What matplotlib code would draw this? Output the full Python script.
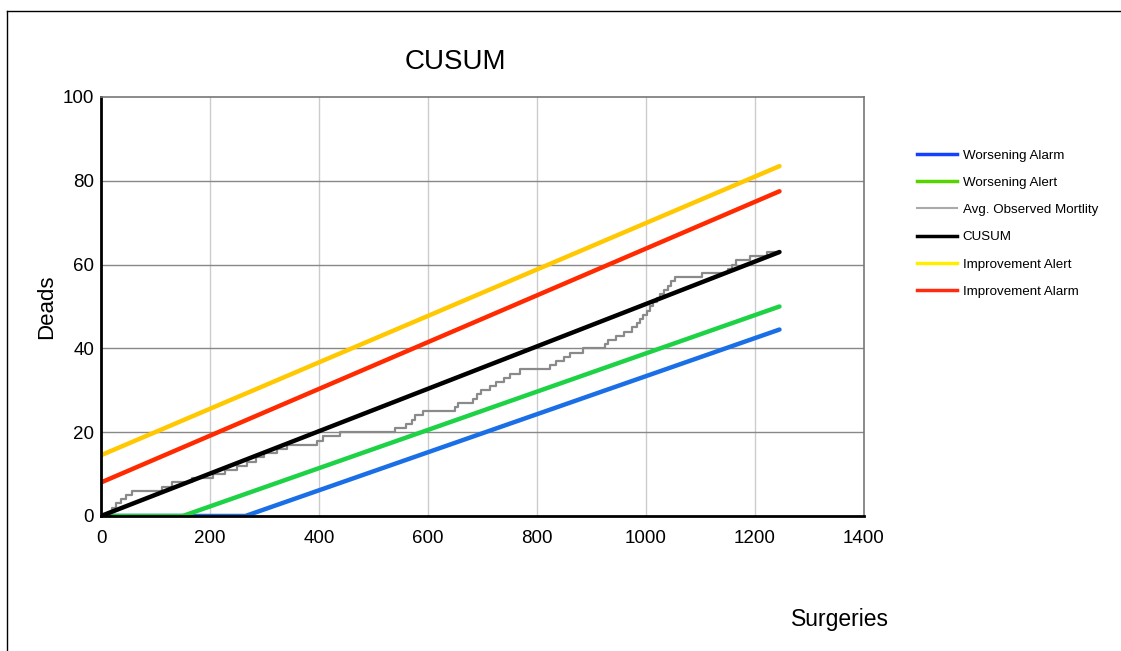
import matplotlib
matplotlib.use('Agg')
import matplotlib.pyplot as plt
from matplotlib.lines import Line2D

plt.rcParams['font.family'] = ['Liberation Sans', 'DejaVu Sans']

# limit lines: (x, y) end points
x_end = 1245
alarm_worse_x = [0, 265, x_end]
alarm_worse_y = [0, 0, 44.5]
alert_worse_x = [0, 150, x_end]
alert_worse_y = [0, 0, 50]
cusum_x = [0, x_end]
cusum_y = [0, 63]
alert_impr_x = [0, x_end]
alert_impr_y = [14.5, 83.5]
alarm_impr_x = [0, x_end]
alarm_impr_y = [8, 77.5]

# observed deaths, step function
obs_x = [0, 12, 20, 28, 36, 46, 56, 112, 130, 167, 205, 228, 250, 268, 285, 300,
         323, 341, 396, 408, 438, 540, 560, 570, 576, 591, 650, 655, 683, 690, 698,
         714, 725, 740, 750, 769, 824, 835, 850, 860, 885, 925, 930, 945, 960, 975,
         983, 989, 995, 1002, 1007, 1013, 1020, 1026, 1033, 1040, 1046, 1053, 1103,
         1150, 1158, 1165, 1191, 1222, 1245]
obs_y = [0, 1, 2, 3, 4, 5, 6, 7, 8, 9, 10, 11, 12, 13, 14, 15,
         16, 17, 18, 19, 20, 21, 22, 23, 24, 25, 26, 27, 28, 29, 30,
         31, 32, 33, 34, 35, 36, 37, 38, 39, 40, 41, 42, 43, 44, 45,
         46, 47, 48, 49, 50, 51, 52, 53, 54, 55, 56, 57, 58,
         59, 60, 61, 62, 63, 63]

x_ticks = [0, 200, 400, 600, 800, 1000, 1200, 1400]
y_ticks = [0, 20, 40, 60, 80, 100]

fig = plt.figure(figsize=(11.21, 6.51), dpi=100)
ax = fig.add_axes([0.0901, 0.2074, 0.6806, 0.6436])

for x in x_ticks[1:-1]:
    ax.axvline(x, color='#cccccc', lw=1.0, zorder=0)
for y in y_ticks[1:-1]:
    ax.axhline(y, color='#888888', lw=1.0, zorder=0)

lw = 3.2
ax.plot(alert_impr_x, alert_impr_y, color='#ffc800', lw=lw, solid_capstyle='round')
ax.plot(alarm_impr_x, alarm_impr_y, color='#ff2a00', lw=lw, solid_capstyle='round')
ax.plot(alarm_worse_x, alarm_worse_y, color='#1a6fe6', lw=lw, solid_capstyle='round')
ax.plot(alert_worse_x, alert_worse_y, color='#1ed246', lw=lw, solid_capstyle='round')
ax.plot(obs_x, obs_y, color='#8a8a8a', lw=1.6, drawstyle='steps-post')
ax.plot(cusum_x, cusum_y, color='black', lw=lw, solid_capstyle='round')

ax.set_xlim(0, 1400)
ax.set_ylim(0, 100)
ax.set_xticks(x_ticks)
ax.set_yticks(y_ticks)
ax.tick_params(length=0, labelsize=13.5)
ax.tick_params(axis='x', pad=10)
ax.tick_params(axis='y', pad=5)
for s in ['left', 'bottom']:
    ax.spines[s].set_linewidth(2)
    ax.spines[s].set_color('black')
for s in ['top', 'right']:
    ax.spines[s].set_linewidth(1.2)
    ax.spines[s].set_color('#777777')

ax.set_ylabel('Deads', fontsize=16, labelpad=4)
fig.text(0.406, 0.905, 'CUSUM', fontsize=20, ha='center', va='center')
fig.text(0.749, 0.049, 'Surgeries', fontsize=16.5, ha='center', va='center')

handles = [
    Line2D([], [], color='#1440ff', lw=2.5),
    Line2D([], [], color='#55d400', lw=2.5),
    Line2D([], [], color='#aaaaaa', lw=1.5),
    Line2D([], [], color='black', lw=2.5),
    Line2D([], [], color='#ffee00', lw=2.5),
    Line2D([], [], color='#ff2a10', lw=2.5),
]
labels = ['Worsening Alarm', 'Worsening Alert', 'Avg. Observed Mortlity',
          'CUSUM', 'Improvement Alert', 'Improvement Alarm']
fig.legend(handles, labels, loc='upper left', bbox_to_anchor=(0.8135, 0.779),
           frameon=False, fontsize=9.6, handlelength=3.0, handletextpad=0.4,
           labelspacing=1.12, borderaxespad=0)

# outer frame
fig.add_artist(Line2D([7 / 1121, 1], [1 - 11 / 651, 1 - 11 / 651],
                      transform=fig.transFigure, color='black', lw=1))
fig.add_artist(Line2D([7 / 1121, 7 / 1121], [0, 1 - 11 / 651],
                      transform=fig.transFigure, color='black', lw=1))

plt.savefig('out.png', dpi=100)
